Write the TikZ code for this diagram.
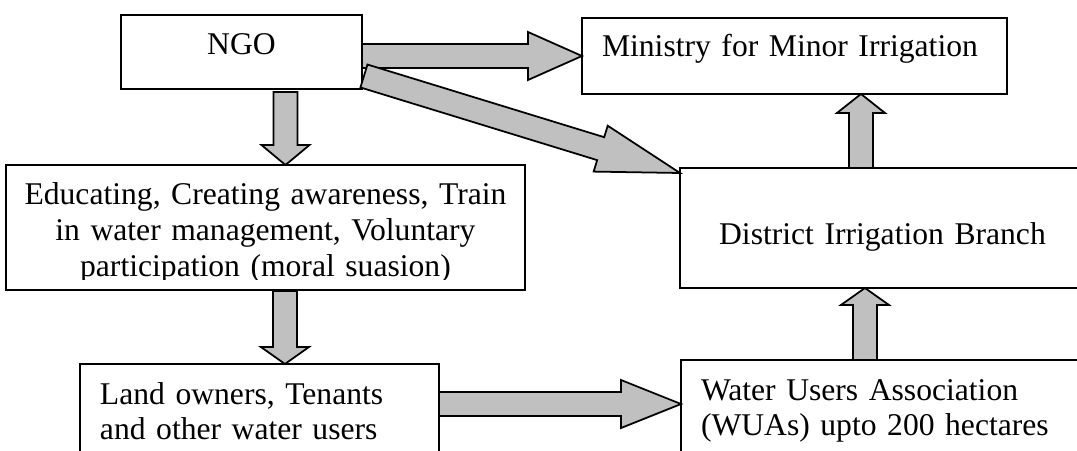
\documentclass[tikz,border=0pt]{standalone}
\usepackage{fontspec}
\setmainfont{Liberation Serif}
\usepackage{tikz}
\usetikzlibrary{calc}

\definecolor{arrowgray}{RGB}{192,192,192}

% fat outlined arrow from #1 to #2, head length #3
\newcommand{\blockarrow}[3]{%
  \coordinate (headbase) at ($(#2)!#3!(#1)$);
  \draw[flow] ($(#1)!0.24cm!90:(#2)$)
    -- ($(headbase)!0.24cm!90:(#2)$)
    -- ($(headbase)!0.48cm!90:(#2)$)
    -- (#2)
    -- ($(headbase)!0.48cm!-90:(#2)$)
    -- ($(headbase)!0.24cm!-90:(#2)$)
    -- ($(#1)!0.24cm!-90:(#2)$) -- cycle;}

\begin{document}
\begin{tikzpicture}[
    x=0.02cm,
    y=-0.02cm,
    line width=1pt
]


\tikzstyle{box}=[
    draw,
    rectangle,
    anchor=north west,
    inner ysep=0pt,
    outer sep=0pt,
    font=\fontsize{18}{20.4}\selectfont
]
\tikzstyle{flow}=[
    draw=black,
    fill=arrowgray,
    line width=1pt
]

\useasboundingbox (0,0) rectangle (1077,450);
\clip (0,0) rectangle (1077,450);


\node[box, inner xsep=0pt, text width=4.82cm, align=center,
      text height=0.8cm, text depth=0.68cm] (ngo) at (121,15) {NGO};
\node[box, inner xsep=0.4cm, text width=7.7cm, align=left,
      text height=0.78cm, text depth=0.74cm] (ministry) at (582,18) {Ministry for Minor Irrigation};
\node[box, inner xsep=0pt, text width=8.1cm, align=center,
      text height=1.54cm, text depth=0.86cm] (district) at (680,168) {District Irrigation Branch};

\begin{scope}
\clip (6,165) rectangle (525,279.5);
\node[box, draw=none, inner xsep=0pt, text width=10.38cm, align=center,
      text height=0.8cm, text depth=1.7cm] (edu) at (6,165)
      {Educating, Creating awareness, Train\\ in water management, Voluntary\\ participation (moral suasion)};
\end{scope}
\draw (edu.north west) rectangle (edu.south east);

\node[box, inner xsep=0.4cm, text width=6.38cm, align=left,
      text height=0.8cm, text depth=2cm] (land) at (80,364) {Land owners, Tenants\\ and other water users};
\node[box, inner xsep=0.4cm, text width=7.28cm, align=left,
      text height=0.8cm, text depth=2cm] (wua) at (681,360) {Water Users Association\\ (WUAs) upto 200 hectares};


\coordinate (a1) at (ngo.east |- ministry.west);
\coordinate (g1) at ([shift={(0.04cm,0.26cm)}]ngo.south east);
\coordinate (g2) at ([yshift=-0.1cm]district.north west);
\coordinate (d1) at ([xshift=0.88cm, yshift=-0.06cm]ngo.south);
\coordinate (d2) at (d1 |- edu.north);
\coordinate (e1) at ([xshift=0.39cm, yshift=-0.02cm]edu.south);
\coordinate (e2) at (e1 |- land.north);
\coordinate (l1) at ([yshift=-0.8cm]land.north east);
\coordinate (l2) at (l1 -| wua.west);
\coordinate (w1) at ([xshift=-0.36cm]wua.north);
\coordinate (w2) at (w1 |- district.south);
\coordinate (b1) at ([xshift=-0.43cm]district.north);
\coordinate (b2) at (b1 |- ministry.south);

\blockarrow{a1}{ministry.west}{1.08cm}
\blockarrow{g1}{g2}{1.66cm}
\blockarrow{d1}{d2}{0.4cm}
\blockarrow{e1}{e2}{0.34cm}
\blockarrow{l1}{l2}{1.2cm}
\blockarrow{w1}{w2}{0.34cm}
\blockarrow{b1}{b2}{0.38cm}

\end{tikzpicture}
\end{document}
